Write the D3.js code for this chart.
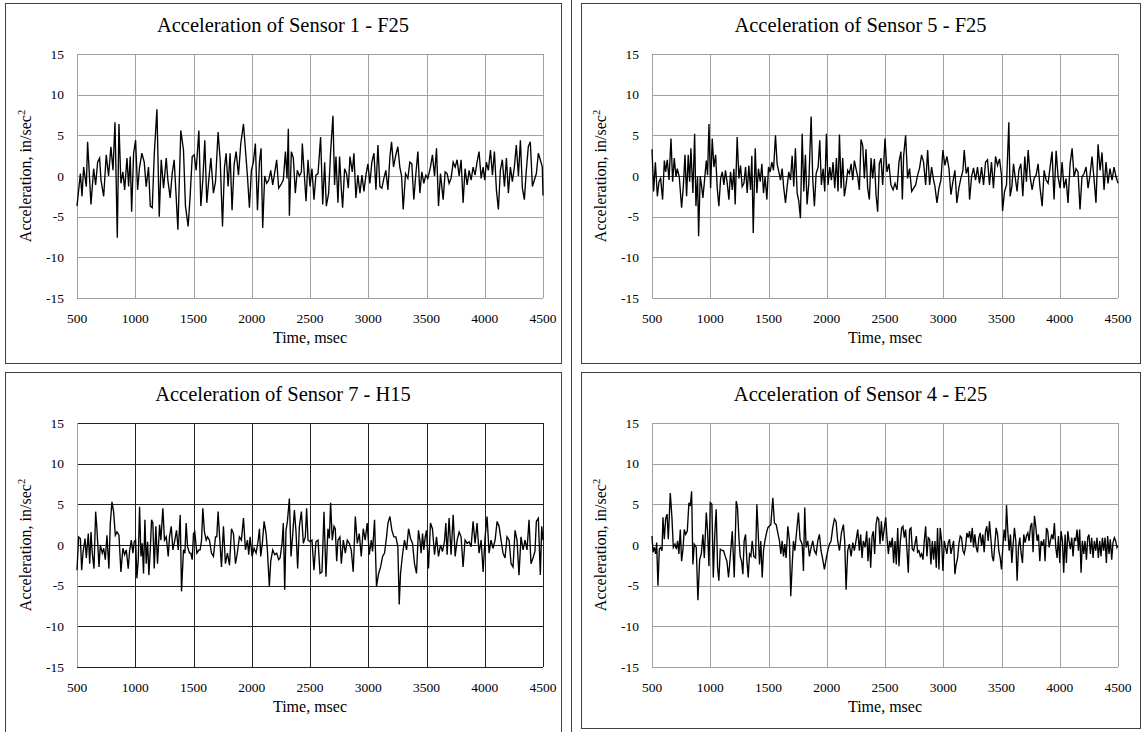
<!DOCTYPE html>
<html>
<head>
<meta charset="utf-8">
<script src="https://cdn.jsdelivr.net/npm/d3@7"></script>
<style>
  body { margin: 0; background: #fff; }
  svg { display: block; }
  text { font-family: "Liberation Serif", "Times New Roman", serif; fill: #000; }
</style>
</head>
<body>
<svg id="chart"></svg>
<script>
const timeTicks = [500, 1000, 1500, 2000, 2500, 3000, 3500, 4000, 4500];
const accelTicks = [-15, -10, -5, 0, 5, 10, 15];
const titles = [
  'Acceleration of Sensor 1 - F25',
  'Acceleration of Sensor 5 - F25',
  'Acceleration of Sensor 7 - H15',
  'Acceleration of Sensor 4 - E25'
];

// [time msec, acceleration in/sec^2]
const sensor1 = [[500,-3.7],[529,0.3],[543,-2.5],[557,1.1],[580,-1.3],[591,4.2],[620,-3.5],[643,0.9],[660,-1.1],[677,1.7],[694,2.2],[706,-0.5],[729,-2.5],[751,2.6],[771,0],[791,3.6],[809,0.7],[826,6.6],[846,-7.6],[860,6.4],[877,-0.9],[894,0.5],[909,-1.7],[929,2.2],[943,-1.3],[957,2.4],[969,-4.4],[986,2.8],[1003,4.4],[1020,-1.7],[1037,1.1],[1057,2.8],[1077,1.7],[1094,-1.3],[1114,1.1],[1129,-3.7],[1146,-3.9],[1163,2.6],[1186,8.2],[1206,-5],[1223,2],[1243,-1.5],[1266,2.2],[1280,-0.5],[1300,-2.7],[1317,0.3],[1334,2],[1351,-2.5],[1366,-6.6],[1391,5.6],[1414,3.2],[1431,-3.7],[1454,-6.2],[1471,-2.5],[1489,2.4],[1506,2.6],[1523,0.7],[1546,5.6],[1563,-3.7],[1580,-0.5],[1597,4.4],[1614,-3.3],[1631,-0.5],[1649,2.2],[1671,-2.1],[1689,-0.7],[1711,5.4],[1729,2],[1749,-6.2],[1766,1.1],[1780,2.8],[1797,-1.3],[1814,2.8],[1831,-4.2],[1849,1.5],[1866,3],[1886,0.1],[1906,4],[1929,6.4],[1946,3.2],[1963,0],[1980,-3.9],[1997,0.7],[2014,1.7],[2031,4],[2049,-4.2],[2066,1.7],[2080,3.4],[2094,-6.4],[2111,0],[2128,-0.9],[2146,-0.5],[2163,0.7],[2180,-1.1],[2200,0.7],[2214,2],[2231,-1.5],[2249,-1.1],[2271,-0.5],[2289,3],[2303,-0.3],[2314,5.8],[2323,-4.9],[2340,3],[2357,2.2],[2374,-2.1],[2391,0.7],[2409,0],[2426,0.5],
  [2434,4],[2466,-3.1],[2483,2],[2500,-1.3],[2517,0.9],[2534,-2.9],[2551,0.1],[2569,0.3],[2591,4.8],[2609,-3.5],[2626,1.7],[2640,-3.7],[2660,-2.1],[2677,3],[2697,7.4],[2711,-1.1],[2723,2.4],[2740,-3.3],[2754,2.4],[2769,-1.7],[2780,-3.9],[2797,0.9],[2814,0.3],[2829,-1.5],[2843,2.4],[2863,0.5],[2877,2.8],[2894,-2.7],[2911,0.1],[2929,-2.1],[2946,0.1],[2963,-1.9],[2980,0.1],[2997,1.5],[3014,-0.9],[3031,1.7],[3049,2.8],[3066,-1.7],[3083,3.8],[3100,-1.3],[3117,-1.5],[3134,-0.3],[3151,0.7],[3169,-1.7],[3186,2.4],[3200,4.2],[3217,1.1],[3234,2.4],[3254,3.6],[3271,1.1],[3286,0],[3300,-4.1],[3320,0.3],[3340,-0.3],[3357,1.7],[3374,1.5],[3391,-2.9],[3409,0.3],[3426,3],[3443,-2.1],[3460,0.5],[3477,-0.9],[3494,0.1],[3511,-0.3],[3534,1.1],[3551,2.6],[3569,0],[3586,3.4],[3603,-3.7],[3620,0.3],[3643,-2.9],[3660,0.5],[3677,0.3],[3694,-0.9],[3711,-0.3],[3729,1.7],[3746,1.1],[3763,2],[3780,0],[3797,2],[3814,-3.3],[3831,0.9],[3849,-1.1],[3866,0.7],[3883,-0.5],[3900,1.1],[3917,0.1],[3934,1.7],[3951,3],[3969,-0.3],[3986,1.1],[4000,-0.5],[4014,1.7],[4031,0.7],[4049,3.2],[4066,0.1],[4083,3],[4100,-1.7],[4117,-4.1],[4134,0.7],[4151,2],[4169,-1.3],[4186,2.2],[4203,-2.1],[4220,1.1],[4237,-0.7],[4254,1.1],[4271,3.8],[4289,0],[4306,4.4],[4323,-1.5],[4340,-2.9],[4357,0.7],[4374,3.6],[4391,4.2],[4409,-1.3],[4426,-0.5],[4443,0.3],[4460,2.8],[4477,2],[4494,1.1],[4500,-2.4]];

const sensor5 = [[500,3.3],[514,-1.9],[529,1.7],[546,-2.5],[560,-0.7],[574,-0.3],[591,-2.9],[606,1.9],[617,0.5],[631,2],[646,-0.5],[663,4.6],[677,-0.7],[691,2.2],[706,-0.1],[717,0.9],[734,-0.1],[754,-3.9],[769,-1.3],[783,2.6],[797,-2.5],[811,2.6],[823,-0.7],[834,3.4],[851,-2.1],[866,5.2],[877,-3.7],[891,-0.1],[900,-7.4],[914,0],[926,-1.3],[937,-2.7],[951,-0.5],[966,1.9],[977,0.1],[989,6.4],[1003,-1.5],[1017,4.6],[1031,1.1],[1046,2.6],[1060,-1.5],[1074,-3.7],[1089,-0.3],[1103,0.5],[1117,-1.1],[1131,0.7],[1146,-0.9],[1160,-2.9],[1174,0.5],[1189,-1.7],[1203,0.9],[1214,-3.5],[1231,4.8],[1246,-0.3],[1260,1.3],[1274,-1.3],[1289,-0.9],[1303,1.1],[1317,-2.1],[1331,1.3],[1346,-1.7],[1357,2.5],[1369,-7],[1386,3.4],[1400,-2.1],[1414,0.9],[1429,-0.7],[1443,1.5],[1457,-2.1],[1471,-0.1],[1486,-2.9],[1500,1.1],[1514,0.5],[1529,1.7],[1543,0.7],[1560,5],[1574,1.5],[1589,0.5],[1603,-0.5],[1617,0.9],[1631,-1.5],[1646,-3.3],[1660,-1.3],[1674,0.5],[1689,-0.5],[1703,2.5],[1717,-1.3],[1731,3.4],[1746,-2.1],[1760,-3.1],[1774,-5.2],[1789,5.2],[1803,-1.9],[1817,2.6],[1831,-3.5],[1846,-0.9],[1866,7.3],[1880,-0.5],[1894,-3.7],[1909,0.3],[1926,1.1],[1940,4.4],[1954,-1.1],[1969,0.9],[1983,-1.9],[1997,5.2],[2011,-1.1],[2026,1.1],[2040,-0.5],[2054,1.7],[2069,-1.5],[2083,2.2],[2097,-1.9],[2109,5.1],[2123,-1.5],[2137,2.2],[2151,-2.5],[2166,-1.1],[2180,0.7],[2194,0.3],[2209,1.5],[2223,-0.5],[2237,1.9],[2251,0.9],[2266,-0.1],[2280,-1.7],[2294,4.5],[2309,3.7],[2323,-0.3],[2337,3.3],[2351,-1.5],[2366,-2.9],[2380,2.2],[2394,-0.3],[2409,2.1],[2423,-2.3],[2437,-4.4],[2451,1.5],[2466,2.2],[2480,-1.1],[2500,4.6],
  [2517,0.5],[2534,1.5],[2551,-1.1],[2569,-1.7],[2586,-0.9],[2603,-1.7],[2620,1.7],[2637,3],[2649,-2.9],[2660,2.5],[2677,5],[2694,-0.3],[2711,0.9],[2729,-1.9],[2746,-1.5],[2763,-1.1],[2780,0.1],[2797,1],[2814,2.6],[2831,1.7],[2849,-1.1],[2866,3.2],[2883,-1.1],[2900,1.1],[2917,-0.5],[2929,-1.3],[2946,-3.3],[2963,-1.5],[2980,-0.5],[2997,3.2],[3014,1.3],[3031,2.4],[3049,0.9],[3066,-2.3],[3083,-0.7],[3100,0.7],[3117,-3.3],[3134,-1.5],[3151,-0.3],[3169,0.7],[3180,3.2],[3197,0.3],[3214,1.1],[3226,-2.9],[3243,-0.1],[3260,1],[3277,-0.5],[3294,1.1],[3311,-0.9],[3329,1.1],[3346,-1.1],[3363,1.7],[3380,2],[3397,-1.1],[3414,1.7],[3431,-1.5],[3449,2.4],[3466,1.3],[3483,2.1],[3500,0.1],[3509,-4.3],[3526,-1.9],[3543,-1.1],[3563,6.6],[3574,-2.5],[3589,-1.3],[3603,1.5],[3617,-0.1],[3634,-1.9],[3649,0.7],[3666,1.5],[3683,-2.5],[3700,2.4],[3714,-0.7],[3729,3.2],[3746,-0.1],[3763,-1.7],[3780,-0.3],[3797,0.1],[3814,1.5],[3831,-1.5],[3849,-3.7],[3866,0.7],[3883,-0.5],[3900,-0.9],[3917,1.1],[3934,3],[3951,-2.9],[3969,3.1],[3986,-0.1],[4003,-1.5],[4020,1.7],[4037,-1.5],[4054,-0.3],[4071,-3.3],[4089,1.5],[4106,3.4],[4123,-0.1],[4140,0.9],[4157,0.5],[4174,-4.1],[4191,-0.1],[4209,0.3],[4226,1.1],[4243,-1.5],[4260,0.1],[4277,2.4],[4294,-0.3],[4311,-3.3],[4329,3.9],[4346,0.7],[4363,2.9],[4380,-1.7],[4397,1.7],[4414,-0.9],[4431,0.9],[4449,-0.5],[4466,1.1],[4483,-0.1],[4500,-0.9]];

const sensor7 = [[500,-3.1],[514,1],[529,0.8],[540,-3.1],[551,-1],[569,0.8],[580,-1.6],[597,1.4],[609,-2.3],[620,1.6],[631,-1],[646,-2.9],[660,4.1],[671,2],[689,-2.7],[700,0],[717,-1],[729,-0.4],[743,-1.8],[757,1.2],[774,-2.9],[786,2.7],[800,5.3],[814,4.1],[829,1.2],[843,1.6],[860,1.2],[877,-3.3],[894,-0.4],[909,-1.2],[923,-0.6],[940,-2.9],[951,-0.8],[966,0.6],[980,-1],[991,0.4],[1003,0.6],[1014,-4.1],[1026,-1.8],[1037,4.7],[1049,-1.4],[1060,0.2],[1071,-3.5],[1083,3.1],[1094,-2.3],[1106,0.4],[1117,-3.7],[1129,-0.6],[1140,3.1],[1151,2.7],[1163,-2.9],[1177,2.3],[1191,-2.3],[1209,2.5],[1220,0.6],[1237,4.5],[1251,0.6],[1266,1],[1283,-1.4],[1294,1],[1309,2.3],[1323,-0.6],[1340,0.6],[1354,1.8],[1369,-0.6],[1386,3.7],[1397,-5.7],[1414,-0.6],[1426,-1],[1437,2.7],[1449,-0.2],[1466,-1],[1477,-1],[1489,-1.8],[1500,1.4],[1511,1.6],[1529,-1],[1546,-0.6],[1557,-0.6],[1569,0.6],[1580,4.5],[1594,1.6],[1609,0.6],[1620,1],[1637,0.6],[1654,-1],[1671,-1.4],[1689,1],[1700,1],[1711,4.1],[1726,0.6],[1740,-2.7],[1757,2.3],[1774,-2.3],[1791,-1],[1809,-2.5],[1826,2],[1843,1.4],[1860,-2.3],[1874,-1.2],[1894,1],[1911,0.6],[1929,3.3],[1946,-0.6],[1963,0.6],[1974,-1.2],[1986,1],[2003,-1.4],[2020,-0.4],[2037,-1],[2054,0.4],[2066,2],[2077,-1.4],[2091,0.2],[2106,2.9],[2123,1.4],[2134,-0.6],[2151,-5.1],[2163,-2],[2180,-0.6],[2197,-1.2],[2214,-1],[2231,-1.8],[2243,-1.6],[2260,0.2],[2271,2.7],[2283,-5.5],[2294,1.8],[2306,2.9],[2323,5.7],[2337,-1.4],[2351,1.2],[2366,4.3],[2380,1.6],[2394,-2.9],[2409,2.3],[2426,4.1],[2443,0.2],
  [2460,1],[2471,4.5],[2483,0.6],[2500,0.4],[2517,0.6],[2534,-3.1],[2551,0.4],[2569,0.6],[2586,-3.5],[2603,-3.3],[2620,4.1],[2637,-3.9],[2654,2],[2666,0.8],[2677,5.2],[2691,0.6],[2706,2.3],[2717,2],[2729,-2],[2740,0.6],[2757,1],[2769,-2.3],[2786,0.6],[2803,-1],[2820,0.6],[2837,0.2],[2854,-0.6],[2871,-3.3],[2889,3.5],[2906,0.2],[2923,1.4],[2940,-1.4],[2957,2],[2974,0.6],[2991,2.7],[3009,-1.2],[3026,0.6],[3037,-0.8],[3054,3.1],[3071,-5.1],[3089,-3.5],[3106,-2.7],[3123,-1.4],[3140,-1],[3157,1],[3169,2.7],[3186,3.5],[3203,1.8],[3220,1],[3237,1],[3254,-0.2],[3266,-7.3],[3277,-3.5],[3294,-1.2],[3311,0.6],[3329,-0.6],[3346,2],[3363,0.8],[3380,0.2],[3397,-2.3],[3414,-3.5],[3431,1.8],[3443,0.6],[3454,-1],[3466,1.4],[3477,-0.6],[3489,1],[3500,1.8],[3517,-2.9],[3534,2.7],[3551,2],[3569,-1.2],[3586,1],[3603,-1.4],[3620,0],[3637,-0.8],[3654,0.4],[3666,2.7],[3677,-1.2],[3694,3.3],[3711,-1.2],[3729,3.7],[3746,-1.4],[3763,0.6],[3780,1.6],[3797,1],[3814,-2.7],[3831,0.6],[3849,0.2],[3866,0.4],[3883,-0.2],[3900,2.9],[3917,0.2],[3934,2.7],[3951,-1],[3969,0.6],[3986,-3.3],[4003,1],[4020,3.5],[4037,-1],[4054,0.6],[4071,-0.4],[4089,0.6],[4106,2.9],[4123,2.3],[4140,0.6],[4157,-1],[4174,-1.6],[4191,1],[4209,0.6],[4226,-2.3],[4243,-2.7],[4260,1.8],[4277,0.6],[4294,-3.7],[4311,1],[4329,-0.6],[4346,0.6],[4363,-0.6],[4380,3.1],[4397,-2.3],[4414,-1.6],[4431,-0.8],[4443,2.9],[4460,3.3],[4477,-3.7],[4489,2.3],[4500,0.6]];

const sensor4 = [[500,1.1],[509,-0.9],[520,-0.3],[531,-1.1],[540,0.3],[551,-5],[563,-0.5],[574,-0.3],[586,-0.7],[594,3.4],[606,0.7],[617,3.2],[629,3.8],[640,0.7],[657,6.4],[671,3.4],[683,-0.3],[697,0.1],[709,-0.5],[720,0.5],[731,-1.1],[743,1.9],[754,-2],[766,-0.5],[777,1.9],[789,1.3],[803,1.7],[817,5.2],[829,4.8],[840,6.6],[851,-2.4],[863,0.1],[880,-0.3],[894,-6.8],[909,-1.8],[923,-1.1],[937,1.3],[949,-1.6],[966,4],[977,1.7],[989,-2.6],[1000,5.2],[1014,5],[1026,-4],[1040,1.7],[1051,4.4],[1063,-2.8],[1074,-4.4],[1086,-0.5],[1103,-0.7],[1114,-0.7],[1129,-1.4],[1143,-2],[1157,-4],[1171,-1.6],[1189,1.7],[1206,-4],[1223,5.4],[1234,4.6],[1246,0.9],[1257,-1.4],[1269,-2],[1280,-3.6],[1291,0.5],[1303,1.3],[1314,-1.8],[1326,-4],[1337,-1.1],[1349,-1.4],[1360,0.5],[1374,-1.4],[1389,-1.6],[1400,5],[1411,1.7],[1423,-2.4],[1434,0.5],[1446,-4],[1457,-0.7],[1469,0.5],[1480,1.3],[1494,2.1],[1506,2.3],[1520,2.5],[1537,5.8],[1551,2.7],[1566,2.5],[1580,1.5],[1594,0.5],[1606,-1.1],[1617,0.5],[1629,-1.4],[1640,0.1],[1651,-1.6],[1666,2.3],[1680,0.5],[1691,-6.3],[1703,-2.6],[1714,0.5],[1726,-0.7],[1743,1.9],[1757,4],[1771,0.7],[1789,0.1],[1800,-3.2],[1811,4.6],[1823,-0.3],[1837,0.5],[1851,-1.4],[1866,-0.3],[1880,0.5],[1894,-0.7],[1909,-1.1],[1923,0.5],[1937,1.3],[1951,-0.7],[1966,-1.8],[1980,-3],[1994,-1.8],[2009,-0.7],[2023,0.1],[2037,0.5],[2051,2.1],[2066,3.2],[2080,2.9],[2094,0.5],[2109,-0.7],[2126,1.5],[2143,2.5],[2154,0.5],[2166,-5.5],[2180,-0.7],[2194,0.1],[2209,-1.4],[2223,0.3],[2237,-0.7],[2251,0.5],[2266,1.9],[2280,-0.7],[2291,1.3],[2303,-1.6],[2314,0.5],[2329,-0.3],[2343,1.7],[2354,-2],[2366,0.9],[2377,-2.8],[2389,1.1],[2400,1.7],[2411,-1.1],[2423,2.5],[2434,3.4],[2446,3.2],[2457,0.1],[2469,2.9],[2480,0.5],
  [2506,3.4],[2517,0.9],[2529,-1.1],[2540,0.5],[2551,-0.3],[2563,0.9],[2574,-2.2],[2586,0.5],[2597,-2.4],[2609,2.1],[2620,-2.6],[2631,0.3],[2643,2.1],[2654,2.3],[2666,0.9],[2677,1.9],[2689,-0.7],[2700,-3.4],[2711,1.9],[2723,2.1],[2734,-0.5],[2746,-0.7],[2757,0.1],[2769,1.1],[2780,-0.9],[2791,-0.7],[2803,-1.4],[2814,-1.1],[2826,-1.8],[2837,0.5],[2849,2.3],[2860,-1.4],[2871,0.9],[2883,0.7],[2894,-2.4],[2906,0.5],[2917,-1.8],[2929,0.5],[2940,-2.8],[2951,2.1],[2963,-3],[2974,2.1],[2986,0.5],[2997,-3.2],[3009,0.5],[3020,-0.3],[3031,-1.1],[3043,0.3],[3054,0.7],[3066,-1.1],[3077,-0.3],[3089,0.5],[3100,-3.6],[3111,-2.4],[3123,-1.6],[3134,0.1],[3146,1.1],[3157,0.9],[3169,-0.7],[3180,-1.1],[3191,-0.3],[3203,1.5],[3214,0.9],[3226,1.7],[3237,0.3],[3249,2.1],[3260,-0.3],[3271,1.3],[3283,-0.3],[3294,-0.9],[3306,0.9],[3317,1.5],[3329,-0.1],[3340,1.3],[3351,-0.9],[3363,1.7],[3374,2.3],[3386,0.5],[3397,2.9],[3409,0.7],[3420,-1.4],[3431,-2],[3443,0.1],[3454,2.1],[3466,1.3],[3477,-0.7],[3489,-1.6],[3500,-3],[3511,-0.3],[3523,1.9],[3534,0.5],[3543,4.9],[3554,1.7],[3566,-0.7],[3577,1.3],[3589,-2.2],[3600,0.1],[3611,2.1],[3623,0.5],[3634,-4.4],[3646,-0.3],[3657,0.9],[3669,-1.1],[3680,-2.2],[3691,1.3],[3703,0.3],[3714,1.1],[3726,1.5],[3737,0.5],[3749,2.3],[3760,2.7],[3771,-0.9],[3783,3.6],[3794,2.3],[3806,0.5],[3817,1.3],[3829,-2],[3840,0.5],[3851,-0.1],[3863,0.7],[3874,-2],[3886,2.1],[3897,1.7],[3909,-0.3],[3920,0.5],[3931,1.3],[3943,0.7],[3954,2.7],[3966,-0.3],[3977,-1.6],[3989,1.1],[4000,-2.2],[4011,1.7],[4023,0.5],[4034,-3.4],[4046,1.3],[4057,-2.2],[4069,1.7],[4080,0.5],[4091,-0.5],[4103,0.9],[4114,-1.4],[4126,0.9],[4137,0.5],[4149,1.9],[4160,-0.7],[4171,1.9],[4183,-3.4],[4194,0.5],[4206,-1.1],[4217,0.5],[4229,-1.8],[4240,0.9],[4251,1.3],[4263,-1.1],[4274,0.9],[4286,-1.6],[4297,0.5],[4309,-0.7],[4320,0.9],[4331,-1.6],[4343,0.5],[4354,-1.4],[4366,0.9],[4377,-0.7],[4389,0.9],[4400,-2.2],[4411,1.1],[4423,-1.1],[4434,0.7],[4446,-1.8],[4457,0.3],[4469,0.9],[4480,0.5],[4491,-0.3],[4497,-0.1]];

const W = 1143, H = 732;
const svg = d3.select('#chart').attr('width', W).attr('height', H);

// layout of the four chart frames (box) and their plot areas
const panels = [
  { title: titles[0], data: sensor1, box: [5, 3, 556, 360], plot: [77, 54, 466, 244], grid: '#a0a0a0', zero: '#a0a0a0', axis: '#a0a0a0' },
  { title: titles[1], data: sensor5, box: [581, 3, 559, 360], plot: [652, 54, 466, 244], grid: '#a0a0a0', zero: '#404040', axis: '#a0a0a0' },
  { title: titles[2], data: sensor7, box: [5, 372, 556, 370], plot: [77, 423, 466, 244], grid: '#202020', zero: '#202020', axis: '#a0a0a0' },
  { title: titles[3], data: sensor4, box: [581, 372, 559, 356], plot: [652, 423, 466, 244], grid: '#a0a0a0', zero: '#505050', axis: '#a0a0a0' }
];

// table divider between the columns
svg.append('line')
  .attr('x1', 571.5).attr('x2', 571.5)
  .attr('y1', 0).attr('y2', H)
  .attr('stroke', '#404040');

const crisp = v => Math.round(v) + 0.5;

panels.forEach(p => {
  const [bx, by, bw, bh] = p.box;
  const [px, py, pw, ph] = p.plot;

  const g = svg.append('g');

  g.append('rect')
    .attr('x', bx + 0.5).attr('y', by + 0.5)
    .attr('width', bw).attr('height', bh)
    .attr('fill', '#fff')
    .attr('stroke', '#404040');

  const x = d3.scaleLinear().domain([500, 4500]).range([px, px + pw]);
  const y = d3.scaleLinear().domain([-15, 15]).range([py + ph, py]);

  // gridlines
  g.selectAll('.hgrid')
    .data(accelTicks)
    .join('line')
      .attr('x1', px).attr('x2', px + pw)
      .attr('y1', d => crisp(y(d))).attr('y2', d => crisp(y(d)))
      .attr('stroke', d => d === 0 ? p.zero : p.grid)
      .attr('stroke-width', 1);

  g.selectAll('.vgrid')
    .data(timeTicks)
    .join('line')
      .attr('x1', d => crisp(x(d))).attr('x2', d => crisp(x(d)))
      .attr('y1', py).attr('y2', py + ph)
      .attr('stroke', d => d === 500 ? p.axis : p.grid)
      .attr('stroke-width', 1);

  // signal
  const line = d3.line()
    .x(d => x(d[0]))
    .y(d => y(d[1]));

  g.append('path')
    .datum(p.data)
    .attr('d', line)
    .attr('fill', 'none')
    .attr('stroke', '#000')
    .attr('stroke-width', 1.35)
    .attr('stroke-linejoin', 'miter');

  // tick labels
  g.selectAll('.ylab')
    .data(accelTicks)
    .join('text')
      .attr('x', px - 13)
      .attr('y', d => y(d) + 4.5)
      .attr('text-anchor', 'end')
      .attr('font-size', 13.5)
      .text(d => d);

  g.selectAll('.xlab')
    .data(timeTicks)
    .join('text')
      .attr('x', d => x(d))
      .attr('y', py + ph + 25)
      .attr('text-anchor', 'middle')
      .attr('font-size', 13.5)
      .text(d => d);

  // titles
  g.append('text')
    .attr('x', bx + bw / 2)
    .attr('y', py - 22)
    .attr('text-anchor', 'middle')
    .attr('font-size', 20.5)
    .text(p.title);

  g.append('text')
    .attr('x', px + pw / 2)
    .attr('y', py + ph + 45)
    .attr('text-anchor', 'middle')
    .attr('font-size', 16)
    .text('Time, msec');

  const yt = g.append('text')
    .attr('transform', `translate(${px - 46},${py + ph / 2}) rotate(-90)`)
    .attr('text-anchor', 'middle')
    .attr('font-size', 16);
  yt.append('tspan').text('Acceleration, in/sec');
  yt.append('tspan').attr('font-size', 10.5).attr('dy', -6).text('2');
});
</script>
</body>
</html>
